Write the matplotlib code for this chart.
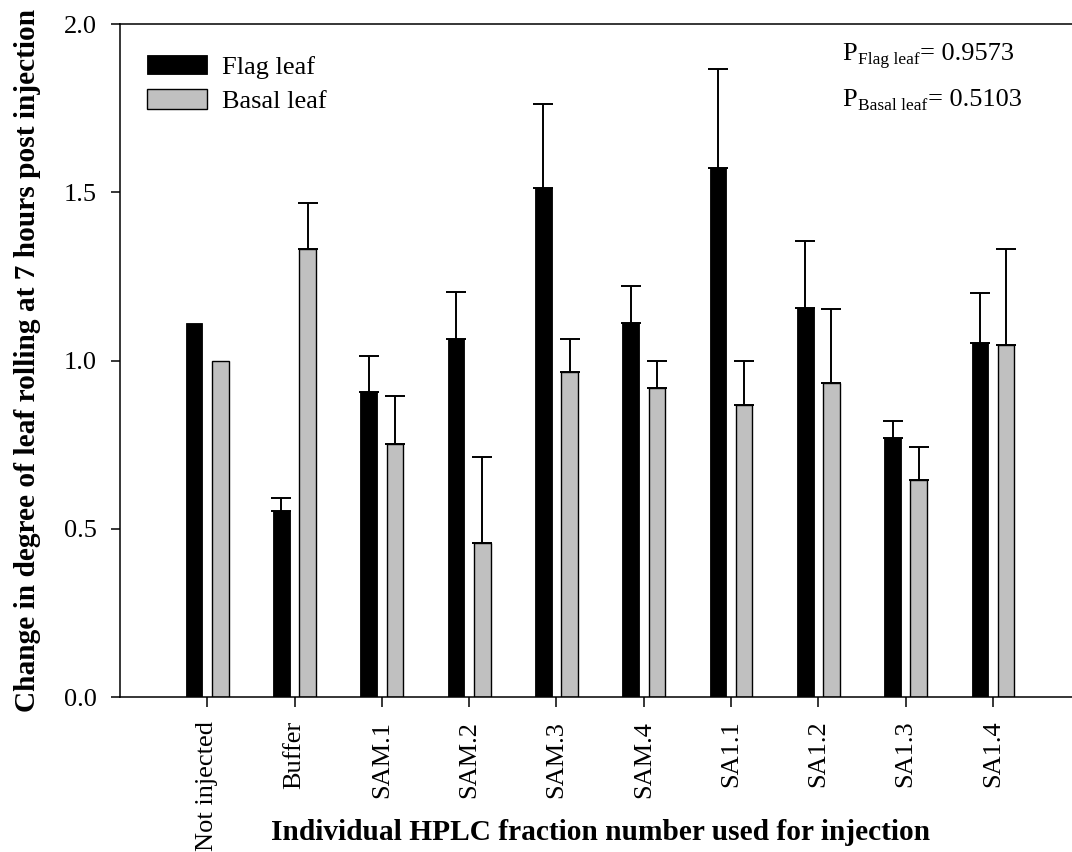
import matplotlib
matplotlib.use("Agg")
import matplotlib.pyplot as plt
import numpy as np

plt.rcParams['font.family'] = ['Liberation Serif', 'DejaVu Serif']

# Fractions injected and mean change in leaf rolling (+ upper error)
categories = ["Not injected", "Buffer", "SAM.1", "SAM.2", "SAM.3",
              "SAM.4", "SA1.1", "SA1.2", "SA1.3", "SA1.4"]
flag_leaf = [1.112, 0.553, 0.906, 1.064, 1.512, 1.112, 1.571, 1.157, 0.769, 1.051]
flag_err = [0.0, 0.039, 0.107, 0.140, 0.250, 0.110, 0.295, 0.198, 0.051, 0.151]
basal_leaf = [1.000, 1.332, 0.751, 0.459, 0.966, 0.917, 0.868, 0.934, 0.645, 1.045]
basal_err = [0.0, 0.137, 0.143, 0.253, 0.098, 0.083, 0.132, 0.218, 0.099, 0.287]
p_values = [("Flag leaf", "0.9573"), ("Basal leaf", "0.5103")]

W, H = 1072, 852
fig = plt.figure(figsize=(W / 100, H / 100), dpi=100)
ax = fig.add_axes([0.1119, 0.1819, 0.8881, 0.7899])

x = np.arange(len(categories))
w = 0.19
off = 0.15

ax.bar(x - off, flag_leaf, width=w, color='black', edgecolor='black',
       linewidth=0.6, label='Flag leaf', zorder=2)
ax.bar(x + off, basal_leaf, width=w, color='#c0c0c0', edgecolor='black',
       linewidth=1.0, label='Basal leaf', zorder=2)

fe = np.array(flag_err)
be = np.array(basal_err)
mf = fe > 0
mb = be > 0
ax.errorbar((x - off)[mf], np.array(flag_leaf)[mf],
            yerr=[np.zeros(mf.sum()), fe[mf]], fmt='none', ecolor='black',
            elinewidth=1.4, capsize=7.5, capthick=1.4, zorder=1)
ax.errorbar((x + off)[mb], np.array(basal_leaf)[mb],
            yerr=[np.zeros(mb.sum()), be[mb]], fmt='none', ecolor='black',
            elinewidth=1.4, capsize=7.5, capthick=1.4, zorder=1)

ax.set_xlim(-1, 9.905)
ax.set_ylim(0, 2.0)
ax.set_yticks([0.0, 0.5, 1.0, 1.5, 2.0])
ax.set_yticklabels(["0.0", "0.5", "1.0", "1.5", "2.0"])
ax.set_xticks(x)
ax.set_xticklabels(categories, rotation=90)

for s in ['left', 'bottom', 'top']:
    ax.spines[s].set_linewidth(1.1)
ax.spines['right'].set_visible(False)

ax.tick_params(axis='y', direction='out', length=6.5, width=1.1, pad=10,
               labelsize=19)
ax.tick_params(axis='x', direction='out', length=7, width=1.1, pad=10,
               labelsize=19)

ax.set_ylabel("Change in degree of leaf rolling at 7 hours post injection",
              fontsize=21.2, fontweight='bold')
ax.yaxis.set_label_coords(-0.083, 0.5)
ax.set_xlabel("Individual HPLC fraction number used for injection",
              fontsize=21.2, fontweight='bold')
ax.xaxis.set_label_coords(0.505, -0.181)

ax.legend(loc='upper left', bbox_to_anchor=(0.0168, 0.970), frameon=False,
          fontsize=19, handlelength=2.31, handleheight=0.76,
          handletextpad=0.56, labelspacing=0.4, borderaxespad=0.0)

# P-value annotations: "P" with a subscript, then "= value"
fig.canvas.draw()
renderer = fig.canvas.get_renderer()
baselines = [H - 60, H - 106]
for (name, val), yb in zip(p_values, baselines):
    xp = 842
    t = fig.text(xp / W, yb / H, "P", fontsize=19, va='baseline', ha='left')
    xp = t.get_window_extent(renderer).x1 + 1
    t = fig.text(xp / W, (yb - 4) / H, name, fontsize=12.5,
                 va='baseline', ha='left')
    xp = t.get_window_extent(renderer).x1 + 1
    fig.text(xp / W, yb / H, "= " + val, fontsize=19, va='baseline', ha='left')

fig.savefig("out.png", dpi=100)
